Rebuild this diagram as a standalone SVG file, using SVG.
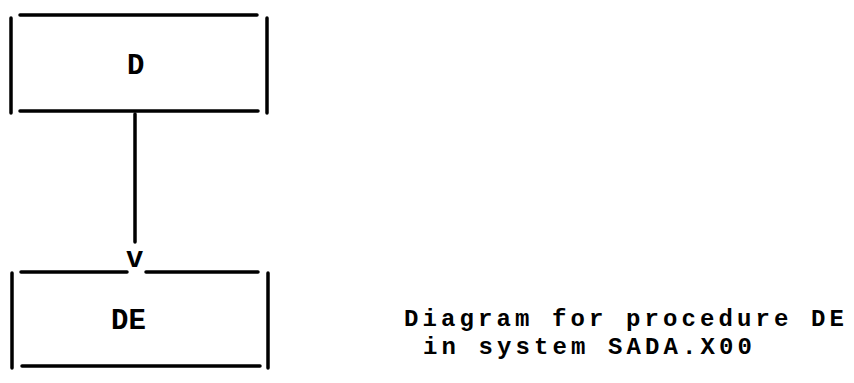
<svg xmlns="http://www.w3.org/2000/svg" width="854" height="383" viewBox="0 0 854 383">
<style>
.ln{stroke:#000;stroke-width:3.5;stroke-linecap:round;fill:none}
.t{font-family:"Liberation Mono","Courier New",monospace;font-weight:bold;font-size:29px;fill:#000}
.c{font-family:"Liberation Mono","Courier New",monospace;font-weight:bold;font-size:24px;letter-spacing:4.1px;fill:#000}
</style>
<rect width="854" height="383" fill="#fff"/>
<g id="node-D">
<line class="ln" x1="20" y1="15" x2="257" y2="15"/>
<line class="ln" x1="20" y1="111" x2="258" y2="111"/>
<line class="ln" x1="11" y1="18" x2="11" y2="113"/>
<line class="ln" x1="267" y1="18" x2="267" y2="113"/>
<text class="t" x="127" y="74">D</text>
</g>
<g id="node-DE">
<line class="ln" x1="21" y1="272" x2="127" y2="272"/>
<line class="ln" x1="146" y1="272" x2="258" y2="272"/>
<line class="ln" x1="22" y1="366" x2="260" y2="366"/>
<line class="ln" x1="12" y1="273" x2="12" y2="368"/>
<line class="ln" x1="268" y1="273" x2="268" y2="368"/>
<text class="t" x="111" y="329">DE</text>
</g>
<g id="connectors">
<line class="ln" x1="135" y1="114" x2="135" y2="242"/>
<text class="t" x="126" y="267">v</text>
</g>
<g id="caption">
<text class="c" x="404" y="326">Diagram for procedure DE</text>
<text class="c" x="423" y="354">in system SADA.X00</text>
</g>
</svg>
